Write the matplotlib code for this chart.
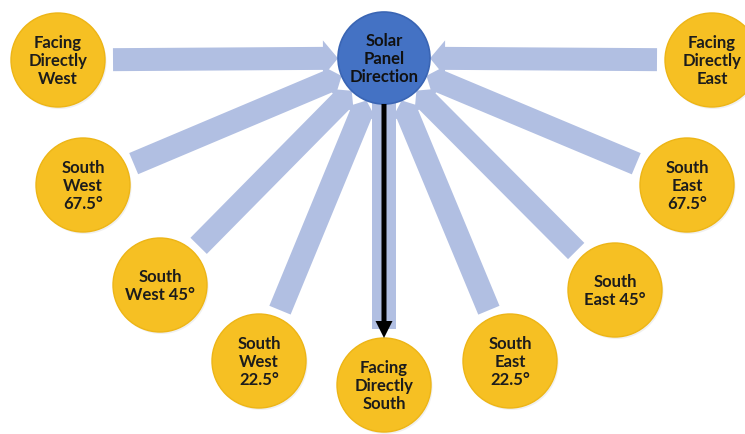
import matplotlib
matplotlib.use("Agg")
import matplotlib.pyplot as plt
from matplotlib.patches import Circle, FancyArrow
import numpy as np

# rótulos das direções (texto dentro de cada círculo)
labels = ["Facing\nDirectly\nWest", "South\nWest\n67.5°", "South\nWest 45°", "South\nWest\n22.5°",
          "Facing\nDirectly\nSouth",
          "South\nEast\n22.5°", "South\nEast 45°", "South\nEast\n67.5°", "Facing\nDirectly\nEast"]
centre_label = "Solar\nPanel\nDirection"

# layout: centro de cada círculo em pixels (imagem 745x434)
node_x = [58, 83, 160, 259, 384, 510, 615, 687, 712]
node_y = [60, 185, 285, 361, 385, 361, 290, 185, 60]
centre_xy = (384, 58)
R_NODE = 47
R_CENTRE = 46

YELLOW = "#F6C023"
YELLOW_EDGE = "#EDB516"
BLUE = "#4472C4"
BLUE_EDGE = "#3A65B4"
ARROW = "#B1BFE2"

plt.rcParams['font.family'] = ['Lato', 'DejaVu Sans']

fig = plt.figure(figsize=(7.45, 4.34), dpi=100)
ax = fig.add_axes([0, 0, 1, 1])
ax.set_xlim(0, 745)
ax.set_ylim(434, 0)
ax.set_aspect('equal')
ax.axis('off')

cx, cy = centre_xy
for lab, x, y in zip(labels, node_x, node_y):
    d = np.array([cx - x, cy - y], dtype=float)
    u = d / np.hypot(*d)
    if lab.endswith("South"):
        # barra vertical sob a seta preta
        ax.add_patch(FancyArrow(cx, y - R_NODE - 9, 0, -(y - R_NODE - 9 - cy), width=24,
                                head_width=24, head_length=1, length_includes_head=True,
                                color=ARROW, lw=0, zorder=1))
        continue
    start = np.array([x, y]) + u * (R_NODE + 8)
    end = np.array([cx, cy]) - u * R_CENTRE
    ax.add_patch(FancyArrow(start[0], start[1], *(end - start), width=23,
                            head_width=36, head_length=15, length_includes_head=True,
                            color=ARROW, lw=0, zorder=1))

for lab, x, y in zip(labels, node_x, node_y):
    ax.add_patch(Circle((x + 1.5, y + 2), R_NODE, color="#e2e2e2", alpha=0.5, lw=0, zorder=2))
    ax.add_patch(Circle((x, y), R_NODE, facecolor=YELLOW, edgecolor=YELLOW_EDGE, lw=1, zorder=3))
    ax.text(x, y + 1, lab, ha='center', va='center', fontsize=12, fontweight='bold',
            color='#1c1c1c', linespacing=1.12, zorder=4)

ax.add_patch(Circle(centre_xy, R_CENTRE, facecolor=BLUE, edgecolor=BLUE_EDGE, lw=1.2, zorder=3))
ax.text(cx, cy + 1, centre_label, ha='center', va='center', fontsize=12, fontweight='bold',
        color='#111111', linespacing=1.12, zorder=4)

# seta preta para o sul
ax.add_patch(FancyArrow(cx, cy + R_CENTRE, 0, 338 - (cy + R_CENTRE), width=5,
                        head_width=17, head_length=17, length_includes_head=True,
                        color='black', lw=0, zorder=5))

fig.savefig("out.png", dpi=100, facecolor='white')
